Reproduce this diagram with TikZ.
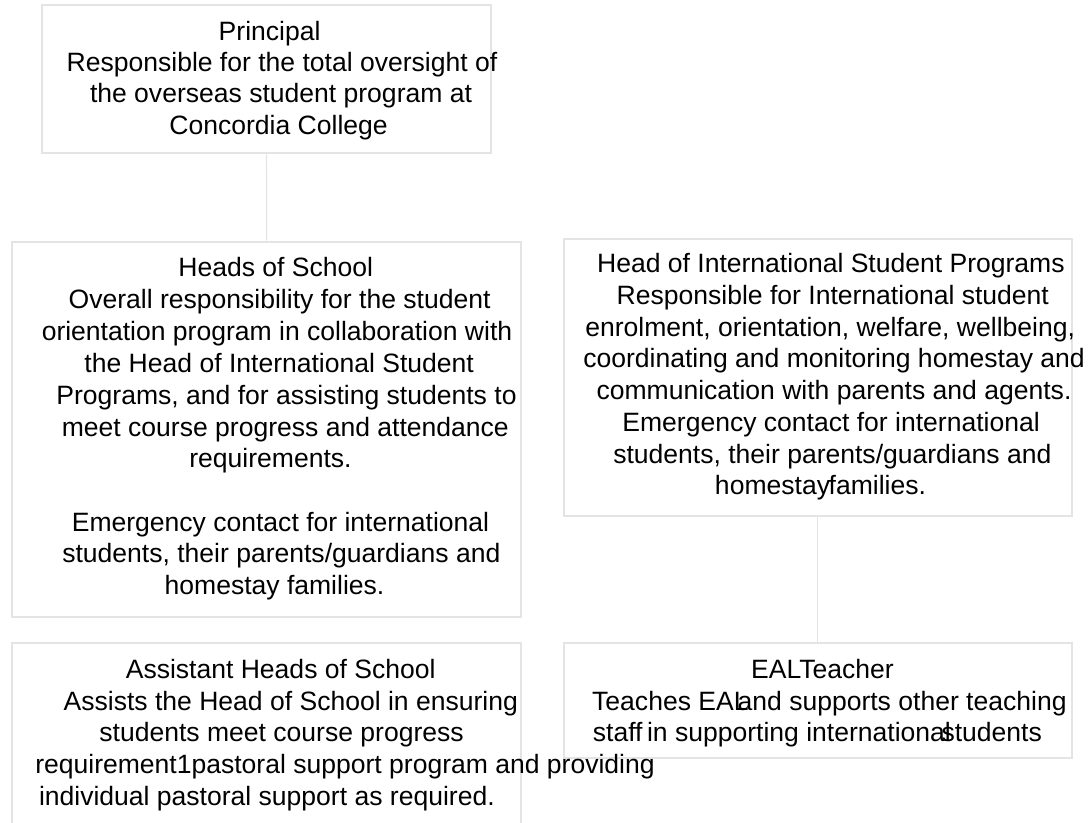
\documentclass[tikz,border=0pt]{standalone}
\usepackage{fontspec}
\setmainfont{Liberation Sans}
\usetikzlibrary{fit}
\definecolor{boxgray}{HTML}{E4E4E4}
\definecolor{conngray}{HTML}{E4E4E4}
\tikzset{
  box/.style={draw=boxgray, line width=1.5pt, inner sep=0pt},
  conn/.style={draw=conngray, line width=0.8pt},
  txt/.style={inner sep=0pt, anchor=base, text=black, font=\fontsize{19.9}{24}\selectfont}
}
\begin{document}
\begin{tikzpicture}[x=0.75pt, y=-0.75pt]
\useasboundingbox (0,0) rectangle (1089,822);
\clip (0,0) rectangle (1089,822);
% boxes
\node[box, fit={(41.7,5.3) (491.3,153.3)}] (P) {};
\node[box, fit={(12.3,241.7) (521,616.7)}] (H) {};
\node[box, fit={(564,239) (1071.7,516)}] (I) {};
\node[box, fit={(12.3,643.3) (521,850)}] (A) {};
\node[box, fit={(564,643.3) (1071.7,758.3)}] (E) {};
% connectors
\draw[conn] (P.south) -- (H.north);
\draw[conn] (I.south) -- (E.north);
% Principal
\node[txt] (p1) at (269.6,40.4) {Principal};
\node[txt] (p2) at (282,71.2) {Responsible for the total oversight of};
\node[txt] (p3) at (281,102.6) {the overseas student program at};
\node[txt] (p4) at (278.6,134.8) {Concordia College};
% Heads of School
\node[txt] (h1) at (275.8,276.7) {Heads of School};
\node[txt] (h2) at (279.6,308.4) {Overall responsibility for the student};
\node[txt] (h3) at (277,340) {orientation program in collaboration with};
\node[txt] (h4) at (279.2,372) {the Head of International Student};
\node[txt] (h5) at (286.5,404.4) {Programs, and for assisting students to};
\node[txt] (h6) at (285.3,436) {meet course progress and attendance};
\node[txt] (h7) at (270.5,467.7) {requirements.};
\node[txt] (h8) at (280.5,531) {Emergency contact for international};
\node[txt] (h9) at (281.3,562.7) {students, their parents/guardians and};
\node[txt] (h10) at (274.5,594.4) {homestay families.};
% Head of International Student Programs
\node[txt] (i1) at (830.9,272.8) {Head of International Student Programs};
\node[txt] (i2) at (832.8,304.4) {Responsible for International student};
\node[txt] (i3) at (830.2,336.2) {enrolment, orientation, welfare, wellbeing,};
\node[txt] (i4) at (834,367.4) {coordinating and monitoring homestay and};
\node[txt] (i5) at (834,399.9) {communication with parents and agents.};
\node[txt] (i6) at (831.1,431.4) {Emergency contact for international};
\node[txt] (i7) at (832.3,463) {students, their parents/guardians and};
\node[txt] (i8) at (820.5,494.5) {homestay\hspace{-0.05em}families.};
% Assistant Heads of School
\node[txt] (a1) at (280.7,678.3) {Assistant Heads of School};
\node[txt] (a2) at (290.8,710) {Assists the Head of School in ensuring};
\node[txt] (a3) at (281.6,741.7) {students meet course progress};
\node[txt] (a4) at (345,773.4) {requirement1pastoral support program and providing};
\node[txt] (a5) at (266.9,805) {individual pastoral support as required.};
% EAL Teacher
\node[txt] (e1) at (822.5,678.3) {EALTeacher};
\node[txt] (e2) at (829.4,710) {Teaches EAL\hspace{-0.41em}and supports other teaching};
\node[txt] (e3) at (817.4,741.7) {staff\hspace{0.17em}in supporting international\hspace{-0.35em}students};
\end{tikzpicture}
\end{document}
